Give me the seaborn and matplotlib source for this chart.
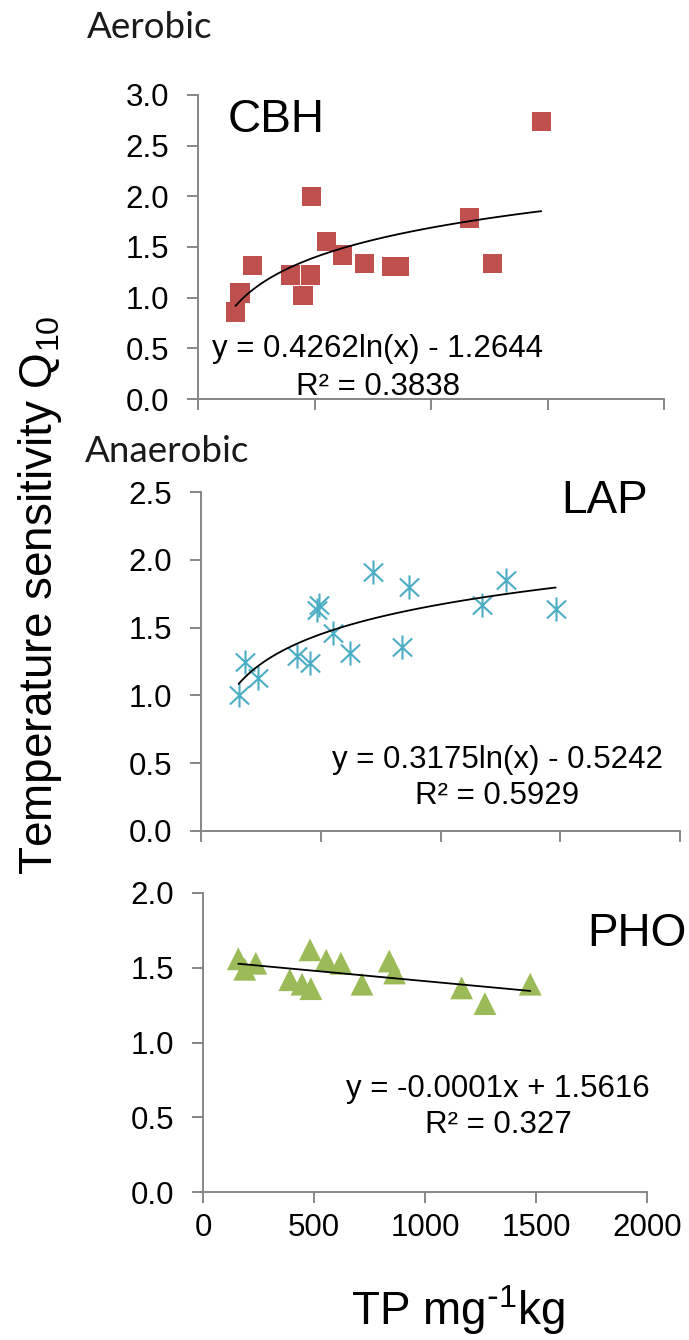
#!/usr/bin/env python3
"""
Q10 vs TP: three stacked scatter panels (CBH, LAP, PHO) with trendlines.
"""

import matplotlib
matplotlib.use("Agg")
import matplotlib.pyplot as plt
from matplotlib.path import Path
from matplotlib.ticker import FormatStrFormatter
import numpy as np
import pandas as pd
import seaborn as sns

# dati
cbh_tp = [161, 180, 233, 398, 451, 487, 483, 551, 619, 714, 833, 862, 1165, 1265, 1473]
cbh_q10 = [0.86, 1.045, 1.32, 1.225, 1.02, 2.0, 1.225, 1.555, 1.42, 1.34, 1.31, 1.31, 1.785, 1.34, 2.74]

lap_tp = [157, 185, 240, 402, 456, 483, 494, 553, 621, 720, 840, 867, 1172, 1273, 1481]
lap_q10 = [1.005, 1.245, 1.13, 1.29, 1.24, 1.63, 1.67, 1.46, 1.31, 1.91, 1.36, 1.80, 1.67, 1.85, 1.64]

pho_tp = [159, 188, 238, 391, 446, 486, 482, 555, 621, 716, 839, 863, 1165, 1270, 1474]
pho_q10 = [1.56, 1.49, 1.53, 1.42, 1.39, 1.36, 1.62, 1.55, 1.53, 1.39, 1.545, 1.465, 1.365, 1.26, 1.39]

enzymes = ["CBH", "LAP", "PHO"]
equations = ["y = 0.4262ln(x) - 1.2644", "y = 0.3175ln(x) - 0.5242", "y = -0.0001x + 1.5616"]
r_squared = ["R² = 0.3838", "R² = 0.5929", "R² = 0.327"]
y_max = [3.0, 2.5, 2.0]
x_ticks = [0, 500, 1000, 1500, 2000]

W, H = 689, 1340
AXIS_GREY = "#868686"


def px_rect(left, right, top, bottom):
    """Converte coordinate in pixel in frazioni della figura."""
    return [left / W, 1 - bottom / H, (right - left) / W, (bottom - top) / H]


def asterisk_marker():
    verts = [(0, -1), (0, 1), (-0.8, -0.75), (0.8, 0.75), (-0.8, 0.75), (0.8, -0.75)]
    codes = [Path.MOVETO, Path.LINETO] * 3
    return Path(verts, codes)


def style_axis(ax, ymax, show_xlabels):
    sns.despine(ax=ax)
    for side in ["left", "bottom"]:
        ax.spines[side].set_color(AXIS_GREY)
        ax.spines[side].set_linewidth(1.4)
    ax.set_xlim(0, 2000)
    ax.set_ylim(0, ymax)
    ax.set_xticks(x_ticks)
    ax.set_yticks(np.arange(0, ymax + 0.01, 0.5))
    ax.yaxis.set_major_formatter(FormatStrFormatter("%.1f"))
    ax.tick_params(axis="both", direction="out", length=8, width=1.4,
                   color=AXIS_GREY, labelsize=22.5, labelcolor="black",
                   bottom=True, left=True)
    ax.tick_params(axis="y", pad=13)
    ax.tick_params(axis="x", pad=7, labelbottom=show_xlabels)
    ax.set_xlabel("")
    ax.set_ylabel("")
    ax.set_facecolor("white")


def main():
    sns.set_theme(style="white")
    plt.rcParams["font.family"] = ["Liberation Sans", "DejaVu Sans"]
    plt.rcParams["mathtext.default"] = "regular"
    plt.rcParams["text.color"] = "black"

    fig = plt.figure(figsize=(W / 100, H / 100), dpi=100)
    fig.patch.set_facecolor("white")

    ax1 = fig.add_axes(px_rect(198, 664, 95, 399))
    ax2 = fig.add_axes(px_rect(201, 680, 492, 831))
    ax3 = fig.add_axes(px_rect(203, 647, 893, 1192))
    for ax in (ax1, ax2, ax3):
        ax.patch.set_alpha(0)

    df1 = pd.DataFrame({"tp": cbh_tp, "q10": cbh_q10})
    df2 = pd.DataFrame({"tp": lap_tp, "q10": lap_q10})
    df3 = pd.DataFrame({"tp": pho_tp, "q10": pho_q10})

    # CBH - quadrati rossi, trend logaritmico
    sns.scatterplot(data=df1, x="tp", y="q10", ax=ax1, marker="s", s=195,
                    color="#C0504D", edgecolor="none", zorder=2)
    sns.regplot(data=df1, x="tp", y="q10", ax=ax1, logx=True, ci=None,
                scatter=False, line_kws={"color": "black", "lw": 1.3, "zorder": 3})

    # LAP - asterischi azzurri
    sns.scatterplot(data=df2, x="tp", y="q10", ax=ax2, marker=asterisk_marker(), s=300,
                    color="#4BACC6", edgecolor="#4BACC6", linewidth=1.5, zorder=2)
    sns.regplot(data=df2, x="tp", y="q10", ax=ax2, logx=True, ci=None,
                scatter=False, line_kws={"color": "black", "lw": 1.3, "zorder": 3})

    # PHO - triangoli verdi, trend lineare
    sns.scatterplot(data=df3, x="tp", y="q10", ax=ax3, marker="^", s=270,
                    color="#9BBB59", edgecolor="none", zorder=2)
    sns.regplot(data=df3, x="tp", y="q10", ax=ax3, ci=None,
                scatter=False, line_kws={"color": "black", "lw": 1.3, "zorder": 3})

    axes = [ax1, ax2, ax3]
    for i, ax in enumerate(axes):
        style_axis(ax, y_max[i], show_xlabels=(i == 2))

    # nomi enzimi
    fig.text(276 / W, 1 - 120 / H, enzymes[0], fontsize=33, ha="center", va="center")
    fig.text(605 / W, 1 - 501 / H, enzymes[1], fontsize=33, ha="center", va="center")
    fig.text(637 / W, 1 - 934 / H, enzymes[2], fontsize=33, ha="center", va="center")

    # equazioni di regressione
    eq_pos = [(378, 349, 387), (497, 760, 796), (498, 1089, 1125)]
    for i, (cx, y_eq, y_r2) in enumerate(eq_pos):
        fig.text(cx / W, 1 - y_eq / H, equations[i], fontsize=22.5,
                 ha="center", va="center")
        fig.text(cx / W, 1 - y_r2 / H, r_squared[i], fontsize=22.5,
                 ha="center", va="center")

    # condizioni
    fig.text(150 / W, 1 - 27 / H, "Aerobic", fontsize=26.5, family=["Lato", "DejaVu Sans"],
             color="#1a1a1a", ha="center", va="center")
    fig.text(167 / W, 1 - 451 / H, "Anaerobic", fontsize=26.5, family=["Lato", "DejaVu Sans"],
             color="#1a1a1a", ha="center", va="center")

    # etichette assi
    fig.text(40 / W, 1 - 595 / H, r"Temperature sensitivity Q$_{10}$", fontsize=33,
             rotation=90, ha="center", va="center")
    fig.text(458 / W, 1 - 1310 / H, r"TP mg$^{\text{-}1}$kg", fontsize=33,
             ha="center", va="center")

    fig.savefig("out.png", dpi=100, facecolor="white")
    plt.close(fig)


if __name__ == "__main__":
    main()
